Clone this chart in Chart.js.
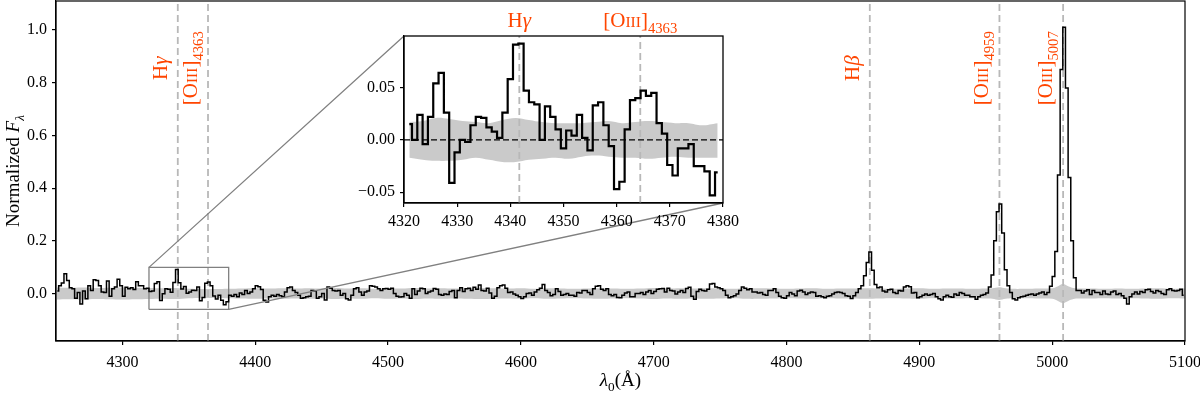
<!DOCTYPE html>
<html><head><meta charset="utf-8">
<script src="https://cdn.jsdelivr.net/npm/chart.js@4.4.1/dist/chart.umd.min.js"></script>
<style>
html,body{margin:0;padding:0;background:#fff;overflow:hidden;}
#wrap{position:relative;width:1200px;height:397px;}
#main{position:absolute;left:0;top:0;}
#inset{position:absolute;left:330px;top:0;}
</style></head><body>
<div id="wrap"><canvas id="main" width="1200" height="397"></canvas><canvas id="inset" width="410" height="232"></canvas></div>
<script>
// ---------------- data ----------------
const specStart = 4251;      // centre of first bin (Å)
const specStep = 2;          // bin width (Å)
const specFlux = [
/*4251*/ 0.010, 0.030, 0.040, 0.075, 0.050, 0.022, 0.018,-0.018, 0.004,-0.040,
/*4271*/ 0.010,-0.020, 0.030, 0.012, 0.052, 0.050, 0.030, 0.006, 0.004, 0.048,
/*4291*/-0.010, 0.018, 0.025, 0.054, 0.030,-0.010, 0.024, 0.018, 0.022, 0.015,
/*4311*/ 0.045, 0.030, 0.030, 0.018, 0.020, 0.008, 0.010, 0.038, 0.045,-0.026,
/*4331*/-0.001, 0.018, 0.016, 0.005, 0.042, 0.091, 0.041, 0.017, 0.027, 0.001,
/*4351*/ 0.006, 0.013, 0.012, 0.025,-0.027,-0.015, 0.039, 0.044, 0.030,-0.009,
/*4371*/-0.021,-0.006,-0.025,-0.042,-0.031,-0.006,-0.010,-0.004,-0.012, 0.002,
/*4391*/-0.004, 0.012, 0.000, 0.006, 0.018, 0.030, 0.026, 0.015,-0.025,-0.032,
/*4411*/-0.012,-0.006,-0.010,-0.004,-0.008,-0.012, 0.006, 0.022, 0.025, 0.012,
/*4431*/ 0.004,-0.006,-0.018,-0.016,-0.012,-0.010, 0.012, 0.010,-0.018,-0.012,
/*4451*/ 0.000,-0.024, 0.025, 0.020, 0.012, 0.010, 0.012,-0.006, 0.000,-0.020,
/*4471*/-0.024,-0.006, 0.018, 0.022, 0.006,-0.006, 0.006, 0.010, 0.030, 0.028,
/*4491*/ 0.025, 0.018, 0.012, 0.018, 0.019, 0.016, 0.020, 0.000,-0.010,-0.013,
/*4511*/-0.012, 0.000,-0.006,-0.018, 0.018,-0.004, 0.010, 0.020, 0.018, 0.000,
/*4531*/ 0.006, 0.010, 0.019, 0.016,-0.004,-0.006,-0.002,-0.004, 0.008, 0.012,
/*4551*/-0.016, 0.012, 0.022, 0.008, 0.018, 0.020, 0.012, 0.024, 0.016, 0.032,
/*4571*/ 0.012, 0.010, 0.020, 0.002,-0.018,-0.010, 0.022, 0.030, 0.032, 0.020,
/*4591*/ 0.004, 0.006,-0.002,-0.006,-0.012,-0.019,-0.012, 0.000, 0.002,-0.006,
/*4611*/ 0.006, 0.014, 0.020, 0.034, 0.012, 0.004,-0.008,-0.004, 0.018, 0.008,
/*4631*/-0.006,-0.004, 0.000,-0.006,-0.006,-0.010, 0.004, 0.002, 0.012, 0.012,
/*4651*/ 0.004,-0.004, 0.018, 0.028, 0.030, 0.016, 0.012, 0.018,-0.004,-0.008,
/*4671*/-0.004,-0.015,-0.016,-0.006, 0.002, 0.006,-0.012,-0.012, 0.000, 0.000,
/*4691*/ 0.004,-0.004, 0.006, 0.012, 0.000, 0.008, 0.016, 0.018, 0.019, 0.006,
/*4711*/ 0.020, 0.012, 0.010,-0.002, 0.006, 0.012, 0.004, 0.019, 0.024,-0.010,
/*4731*/-0.022, 0.008, 0.016, 0.012, 0.010, 0.016, 0.036, 0.038, 0.025, 0.022,
/*4751*/ 0.018, 0.012,-0.006,-0.016,-0.012,-0.008,-0.002, 0.012, 0.025, 0.020,
/*4771*/ 0.014, 0.018, 0.006, 0.006, 0.002, 0.004,-0.004,-0.006, 0.012, 0.012,
/*4791*/ 0.018, 0.004,-0.010,-0.016,-0.018,-0.008, 0.004,-0.002,-0.008, 0.010,
/*4811*/ 0.013, 0.006,-0.004, 0.002, 0.006, 0.004,-0.010,-0.008,-0.012,-0.016,
/*4831*/-0.010,-0.008,-0.002, 0.004, 0.006, 0.004, 0.000,-0.008,-0.010,-0.019,
/*4851*/-0.008, 0.004, 0.018, 0.030, 0.068, 0.118, 0.158, 0.088, 0.034, 0.022,
/*4871*/ 0.025, 0.010, 0.006, 0.014, 0.016, 0.004, 0.000, 0.012, 0.010, 0.025,
/*4891*/ 0.030, 0.026, 0.002, 0.004,-0.016,-0.012,-0.006,-0.002,-0.006,-0.004,
/*4911*/ 0.000,-0.012,-0.020,-0.024,-0.012,-0.006,-0.012,-0.014,-0.002,-0.006,
/*4931*/ 0.004, 0.000,-0.006,-0.006,-0.012,-0.012,-0.022,-0.012,-0.006,-0.004,
/*4951*/ 0.002, 0.025, 0.070, 0.200, 0.310, 0.340, 0.230, 0.090, 0.030, 0.004,
/*4971*/-0.020,-0.024,-0.016,-0.012,-0.010,-0.006,-0.004,-0.002,-0.006,-0.002,
/*4991*/ 0.002, 0.006,-0.004, 0.004, 0.028, 0.065, 0.160, 0.450, 0.850, 1.010,
/*5011*/ 0.780, 0.440, 0.200, 0.060, 0.012, 0.012, 0.002, 0.010, 0.014,-0.004,
/*5031*/ 0.012, 0.004, 0.004,-0.004, 0.010,-0.002,-0.004, 0.006, 0.010,-0.004,
/*5051*/ 0.000,-0.008,-0.018,-0.040,-0.012,-0.002, 0.006,-0.002, 0.008, 0.004,
/*5071*/ 0.014, 0.016, 0.008, 0.002, 0.012, 0.008, 0.000,-0.004, 0.014, 0.018,
/*5091*/ 0.012, 0.010, 0.012, 0.016,-0.006
];

// 1-sigma error band of the full spectrum
const errLambda = [4250,4260,4270,4280,4290,4300,4310,4320,4330,4340,
 4350,4360,4370,4380,4390,4400,4410,4420,4430,4440,
 4450,4460,4470,4480,4490,4500,4510,4520,4530,4540,
 4550,4560,4570,4580,4590,4600,4610,4620,4630,4640,
 4650,4660,4670,4680,4690,4700,4710,4720,4730,4740,
 4750,4760,4770,4780,4790,4800,4810,4820,4830,4840,
 4850,4860,4870,4880,4890,4900,4910,4920,4930,4940,
 4950,4955,4960,4965,4970,4980,4990,5000,5004,5008,
 5012,5016,5020,5030,5040,5050,5060,5070,5080,5090,5100];
const errValue = [0.023,0.022,0.023,0.021,0.022,0.023,0.022,0.021,0.020,0.021,
 0.018,0.017,0.017,0.018,0.019,0.020,0.019,0.020,0.019,0.020,
 0.019,0.021,0.019,0.020,0.018,0.020,0.019,0.021,0.019,0.020,
 0.019,0.020,0.021,0.020,0.019,0.020,0.018,0.020,0.019,0.018,
 0.019,0.020,0.019,0.018,0.019,0.021,0.019,0.020,0.019,0.020,
 0.019,0.018,0.020,0.020,0.019,0.018,0.019,0.020,0.018,0.019,
 0.019,0.020,0.019,0.018,0.019,0.020,0.018,0.019,0.019,0.018,
 0.019,0.020,0.024,0.020,0.018,0.018,0.019,0.020,0.027,0.036,
 0.028,0.021,0.019,0.019,0.018,0.019,0.018,0.019,0.020,0.018,0.019];

// zoomed region (1 Å bins)
const insetStart = 4321, insetStep = 1;
const insetFlux = [
/*4321*/ 0.015, 0.000, 0.024,-0.004, 0.022, 0.054, 0.064, 0.026,-0.041,-0.012,
/*4331*/ 0.000,-0.002, 0.014, 0.022, 0.021, 0.012, 0.008, 0.002, 0.026, 0.058,
/*4341*/ 0.091, 0.092, 0.047, 0.036, 0.034, 0.000, 0.032, 0.022, 0.010,-0.008,
/*4351*/ 0.009, 0.004, 0.024, 0.002,-0.010, 0.033, 0.036, 0.014,-0.006,-0.047,
/*4361*/-0.040, 0.010, 0.038, 0.040, 0.047, 0.042, 0.045, 0.016, 0.006,-0.024,
/*4371*/-0.034,-0.008,-0.008,-0.004,-0.025,-0.025,-0.030,-0.053,-0.031
];
const bandLambda = [4321,4323.5,4326,4328.5,4331,4333.5,4336,4338.5,4341,4343.5,4346,4348.5,
 4351,4353.5,4356,4358.5,4361,4363.5,4366,4368.5,4371,4373.5,4376,4379];
const bandUpper = [0.017,0.018,0.021,0.020,0.018,0.017,0.016,0.019,0.021,0.019,0.017,0.016,
 0.016,0.016,0.017,0.018,0.016,0.017,0.018,0.017,0.016,0.016,0.014,0.016];
const bandLower = [-0.017,-0.019,-0.020,-0.020,-0.019,-0.017,-0.019,-0.021,-0.021,-0.019,-0.018,-0.017,
 -0.018,-0.016,-0.015,-0.016,-0.017,-0.017,-0.018,-0.017,-0.016,-0.017,-0.017,-0.017];

// emission lines (vacuum rest wavelengths)
const lineLambda = [4341.69, 4364.44, 4862.69, 4960.30, 5008.24];
const lineLabels = [
  [{t:'H'},{t:'γ',it:1}],
  [{t:'[O'},{t:'III',sc:1},{t:']'},{t:'4363',sub:1}],
  [{t:'H'},{t:'β',it:1}],
  [{t:'[O'},{t:'III',sc:1},{t:']'},{t:'4959',sub:1}],
  [{t:'[O'},{t:'III',sc:1},{t:']'},{t:'5007',sub:1}]
];
const insetLineIdx = [0, 1];

const xTicksMain = [4300,4400,4500,4600,4700,4800,4900,5000,5100];
const yTicksMain = [0.0,0.2,0.4,0.6,0.8,1.0];
const xTicksInset = [4320,4330,4340,4350,4360,4370,4380];
const yTicksInset = [-0.05,0.00,0.05];

const xMinMain = 4250, xMaxMain = 5100, yMinMain = -0.18, yMaxMain = 1.11;
const xMinIn = 4320, xMaxIn = 4380, yMinIn = -0.0603, yMaxIn = 0.0993;

// ---------------- layout / style ----------------
const FONT = '"Liberation Serif","DejaVu Serif",serif';
const RED = '#ff4500';
const INSET_CANVAS = {left:330, top:0, w:410, h:232};
const INSET = {left:404, top:36, right:723, bottom:203};
const DASH_GRAY = '#b8b8b8';
const BAND_GRAY = '#cacaca';
const LABEL_SIZE = 21;

function drawRich(ctx, parts, x, y, rot, base, color, align) {
  ctx.save();
  ctx.translate(x, y);
  ctx.rotate(rot);
  ctx.fillStyle = color;
  ctx.textBaseline = 'alphabetic';
  ctx.textAlign = 'left';
  const specs = parts.map(p => {
    const size = p.sub ? base*0.7 : (p.sc ? base*0.74 : base);
    const font = (p.it ? 'italic ' : '') + size + 'px ' + FONT;
    ctx.font = font;
    return {t:p.t, font, w:ctx.measureText(p.t).width, dy: p.sub ? base*0.27 : 0};
  });
  const total = specs.reduce((a,s)=>a+s.w, 0);
  let cx = align === 'left' ? 0 : -total/2;
  specs.forEach(s => { ctx.font = s.font; ctx.fillText(s.t, cx, s.dy); cx += s.w; });
  ctx.restore();
}

const pts = (xs, ys) => ys.map((y,i)=>({x:xs[i], y}));
const gridPts = (start, step, ys) => ys.map((y,i)=>({x:start+i*step, y}));

const mainPoints = gridPts(specStart, specStep, specFlux);
const errUp = pts(errLambda, errValue);
const errLo = pts(errLambda, errValue.map(v=>-v));

const vLine = (lam, y0, y1) => ({data:[{x:lam,y:y0},{x:lam,y:y1}], borderColor:DASH_GRAY, borderWidth:1.8,
  borderDash:[7,4], pointRadius:0, fill:false, order:2});

const noPad = s => { s.paddingLeft = 0; s.paddingRight = 0; s.paddingTop = 0; s.paddingBottom = 0; };

const mainDeco = {
  id:'mainDeco',
  afterDatasetsDraw(chart) {
    const ctx = chart.ctx, a = chart.chartArea, xs = chart.scales.x, ys = chart.scales.y;
    ctx.save();
    ctx.strokeStyle = '#808080'; ctx.lineWidth = 1.3;
    ctx.beginPath();
    ctx.moveTo(xs.getPixelForValue(xMinIn), ys.getPixelForValue(yMaxIn));
    ctx.lineTo(INSET.left, INSET.top);
    ctx.moveTo(xs.getPixelForValue(xMaxIn), ys.getPixelForValue(yMinIn));
    ctx.lineTo(INSET.right, INSET.bottom);
    ctx.stroke();
    ctx.strokeStyle = '#000'; ctx.lineWidth = 1.2;
    ctx.strokeRect(a.left, a.top, a.right-a.left, a.bottom-a.top);
    ctx.restore();
  },
  afterDraw(chart) {
    const ctx = chart.ctx, a = chart.chartArea, xs = chart.scales.x, ys = chart.scales.y;
    const yc = ys.getPixelForValue(0.855);
    lineLambda.forEach((lam,i) => {
      drawRich(ctx, lineLabels[i], xs.getPixelForValue(lam) - 11, yc, -Math.PI/2, LABEL_SIZE, RED);
    });
    // axis titles
    drawRich(ctx, [{t:'Normalized '},{t:'F',it:1},{t:'λ',sub:1,it:1}], 19, (a.top+a.bottom)/2, -Math.PI/2, 19, '#000');
    drawRich(ctx, [{t:'λ',it:1},{t:'0',sub:1},{t:'(Å)'}], (a.left+a.right)/2, 386, 0, 19, '#000');
  }
};

new Chart(document.getElementById('main'), {
  type:'line',
  data:{datasets:[
    {data:mainPoints, borderColor:'#000', borderWidth:1.5, stepped:'middle', pointRadius:0, fill:false, order:0},
    {data:errUp, borderColor:'rgba(0,0,0,0)', borderWidth:1, pointRadius:0, tension:0.4, fill:false, order:4},
    {data:errLo, borderColor:'rgba(0,0,0,0)', borderWidth:1, pointRadius:0, tension:0.4, fill:1, backgroundColor:BAND_GRAY, order:4},
    {data:[{x:xMinIn,y:yMinIn},{x:xMaxIn,y:yMinIn},{x:xMaxIn,y:yMaxIn},{x:xMinIn,y:yMaxIn},{x:xMinIn,y:yMinIn}],
      borderColor:'#808080', borderWidth:1.3, pointRadius:0, fill:false, order:1},
    ...lineLambda.map(l => vLine(l, yMinMain, yMaxMain))
  ]},
  options:{
    responsive:false, animation:false, events:[],
    layout:{padding:{left:0, right:15, top:1, bottom:0}},
    plugins:{legend:{display:false}, tooltip:{enabled:false}},
    elements:{point:{radius:0}},
    scales:{
      x:{type:'linear', min:xMinMain, max:xMaxMain,
        afterBuildTicks:s=>{ s.ticks = xTicksMain.map(v=>({value:v})); },
        afterFit:s=>{ s.height = 56; noPad(s); },
        ticks:{font:{family:FONT,size:16}, color:'#000', padding:8, maxRotation:0, autoSkip:false, callback:v=>String(v)},
        grid:{drawOnChartArea:false, drawTicks:true, tickLength:4, color:'#000', lineWidth:1.2},
        border:{display:true, color:'#000', width:1.2}},
      y:{type:'linear', min:yMinMain, max:yMaxMain,
        afterBuildTicks:s=>{ s.ticks = yTicksMain.map(v=>({value:v})); },
        afterFit:s=>{ s.width = 56; noPad(s); },
        ticks:{font:{family:FONT,size:16}, color:'#000', padding:5, autoSkip:false, callback:v=>Number(v).toFixed(1)},
        grid:{drawOnChartArea:false, drawTicks:true, tickLength:4, color:'#000', lineWidth:1.2},
        border:{display:true, color:'#000', width:1.2}}
    }
  },
  plugins:[mainDeco]
});

// ---------------- inset ----------------
const insetPoints = gridPts(insetStart, insetStep, insetFlux);
const insetDeco = {
  id:'insetDeco',
  beforeDraw(chart) {
    const ctx = chart.ctx, a = chart.chartArea;
    ctx.save(); ctx.fillStyle = '#fff';
    ctx.fillRect(a.left, a.top, a.right-a.left, a.bottom-a.top); ctx.restore();
  },
  afterDraw(chart) {
    const ctx = chart.ctx, a = chart.chartArea, xs = chart.scales.x;
    ctx.save(); ctx.strokeStyle = '#000'; ctx.lineWidth = 1.3;
    ctx.strokeRect(a.left, a.top, a.right-a.left, a.bottom-a.top); ctx.restore();
    insetLineIdx.forEach(i => {
      drawRich(ctx, lineLabels[i], xs.getPixelForValue(lineLambda[i]), 27, 0, LABEL_SIZE, RED);
    });
  }
};

new Chart(document.getElementById('inset'), {
  type:'line',
  data:{datasets:[
    {data:insetPoints, borderColor:'#000', borderWidth:2.2, stepped:'middle', pointRadius:0, fill:false, order:0},
    {data:pts(bandLambda, bandUpper), borderColor:'rgba(0,0,0,0)', borderWidth:1, pointRadius:0, tension:0.4, fill:false, order:4},
    {data:pts(bandLambda, bandLower), borderColor:'rgba(0,0,0,0)', borderWidth:1, pointRadius:0, tension:0.4, fill:1, backgroundColor:BAND_GRAY, order:4},
    {data:[{x:xMinIn,y:0},{x:xMaxIn,y:0}], borderColor:'#000', borderWidth:1.3, borderDash:[6,3], pointRadius:0, fill:false, order:1},
    ...insetLineIdx.map(i => vLine(lineLambda[i], yMinIn, yMaxIn))
  ]},
  options:{
    responsive:false, animation:false, events:[],
    layout:{padding:{left:0, right:INSET_CANVAS.w-(INSET.right-INSET_CANVAS.left), top:INSET.top-INSET_CANVAS.top, bottom:0}},
    plugins:{legend:{display:false}, tooltip:{enabled:false}},
    elements:{point:{radius:0}},
    scales:{
      x:{type:'linear', min:xMinIn, max:xMaxIn,
        afterBuildTicks:s=>{ s.ticks = xTicksInset.map(v=>({value:v})); },
        afterFit:s=>{ s.height = INSET_CANVAS.h-(INSET.bottom-INSET_CANVAS.top); noPad(s); },
        ticks:{font:{family:FONT,size:16}, color:'#000', padding:5, maxRotation:0, autoSkip:false, callback:v=>String(v)},
        grid:{drawOnChartArea:false, drawTicks:true, tickLength:4, color:'#000', lineWidth:1.2},
        border:{display:true, color:'#000', width:1.3}},
      y:{type:'linear', min:yMinIn, max:yMaxIn,
        afterBuildTicks:s=>{ s.ticks = yTicksInset.map(v=>({value:v})); },
        afterFit:s=>{ s.width = INSET.left-INSET_CANVAS.left; noPad(s); },
        ticks:{font:{family:FONT,size:16}, color:'#000', padding:5, autoSkip:false,
          callback:v=>{ const n = Number(v); return n===0 ? '0.00' : (n<0?'\u2212':'') + Math.abs(n).toFixed(2); }},
        grid:{drawOnChartArea:false, drawTicks:true, tickLength:4, color:'#000', lineWidth:1.2},
        border:{display:true, color:'#000', width:1.3}}
    }
  },
  plugins:[insetDeco]
});
</script>
</body></html>
